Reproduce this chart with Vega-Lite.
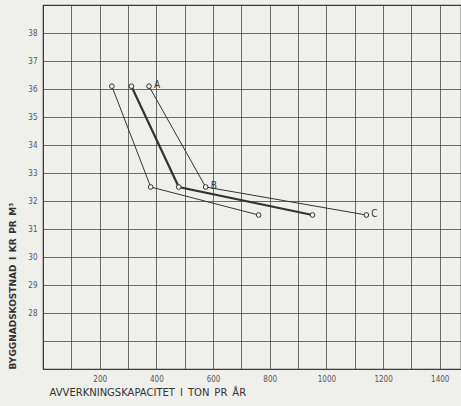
{
  "$schema": "https://vega.github.io/schema/vega-lite/v6.json",
  "autosize": "none",
  "width": 418,
  "height": 364,
  "padding": {"left": 43, "top": 5, "right": 0, "bottom": 37},
  "background": "#efefec",
  "config": {
    "view": {"stroke": "#3a3a3a", "strokeWidth": 1.2},
    "font": "DejaVu Sans Condensed"
  },
  "data": {
    "values": [
      {"serie": "1", "kapacitet": 243, "kostnad": 36.1, "label": ""},
      {"serie": "1", "kapacitet": 380, "kostnad": 32.5, "label": ""},
      {"serie": "1", "kapacitet": 761, "kostnad": 31.5, "label": ""},
      {"serie": "2", "kapacitet": 312, "kostnad": 36.1, "label": ""},
      {"serie": "2", "kapacitet": 479, "kostnad": 32.5, "label": ""},
      {"serie": "2", "kapacitet": 951, "kostnad": 31.5, "label": ""},
      {"serie": "3", "kapacitet": 374, "kostnad": 36.1, "label": "A"},
      {"serie": "3", "kapacitet": 574, "kostnad": 32.5, "label": "B"},
      {"serie": "3", "kapacitet": 1141, "kostnad": 31.5, "label": "C"}
    ]
  },
  "encoding": {
    "x": {
      "field": "kapacitet", "type": "quantitative",
      "scale": {"domain": [0, 1475], "nice": false, "zero": false},
      "axis": {
        "values": [0, 100, 200, 300, 400, 500, 600, 700, 800, 900, 1000, 1100, 1200, 1300, 1400],
        "labelExpr": "datum.value % 200 === 0 && datum.value > 0 ? datum.label : ''",
        "format": "d",
        "grid": true, "gridColor": "#4a4a4a", "gridOpacity": 0.8, "gridWidth": 1,
        "ticks": false, "domain": true, "domainColor": "#3a3a3a",
        "labelFont": "DejaVu Sans Condensed", "labelFontSize": 8, "labelColor": "#555",
        "labelPadding": 6,
        "title": "AVVERKNINGSKAPACITET\u2002I\u2002TON\u2002PR\u2002ÅR",
        "titleFont": "DejaVu Sans", "titleFontSize": 10, "titleFontWeight": "normal",
        "titleColor": "#333", "titleAnchor": "start", "titleAlign": "left", "titlePadding": 4,
        "titleX": 6
      }
    },
    "y": {
      "field": "kostnad", "type": "quantitative",
      "scale": {"domain": [26, 39], "nice": false, "zero": false},
      "axis": {
        "values": [26, 27, 28, 29, 30, 31, 32, 33, 34, 35, 36, 37, 38],
        "labelExpr": "datum.value >= 28 ? datum.label : ''",
        "grid": true, "gridColor": "#4a4a4a", "gridOpacity": 0.8, "gridWidth": 1,
        "ticks": false, "domain": true, "domainColor": "#3a3a3a",
        "labelFont": "DejaVu Sans Condensed", "labelFontSize": 8, "labelColor": "#555",
        "labelPadding": 6,
        "title": "BYGGNADSKOSTNAD\u2002I\u2002KR\u2002PR\u2002M³",
        "titleFont": "DejaVu Sans", "titleFontSize": 9, "titleFontWeight": "bold",
        "titleColor": "#333", "titleAnchor": "start", "titlePadding": 10
      }
    }
  },
  "layer": [
    {
      "mark": {"type": "line", "color": "#333"},
      "encoding": {
        "detail": {"field": "serie"},
        "strokeWidth": {
          "condition": {"test": "datum.serie === '2'", "value": 2.2},
          "value": 1
        }
      }
    },
    {
      "mark": {"type": "point", "shape": "circle", "size": 22, "filled": true, "fill": "#f4f4f2", "stroke": "#333", "strokeWidth": 1, "opacity": 1}
    },
    {
      "mark": {"type": "text", "align": "left", "dx": 5, "dy": -1, "fontSize": 10, "color": "#333", "font": "DejaVu Sans Condensed"},
      "encoding": {"text": {"field": "label"}}
    }
  ]
}
